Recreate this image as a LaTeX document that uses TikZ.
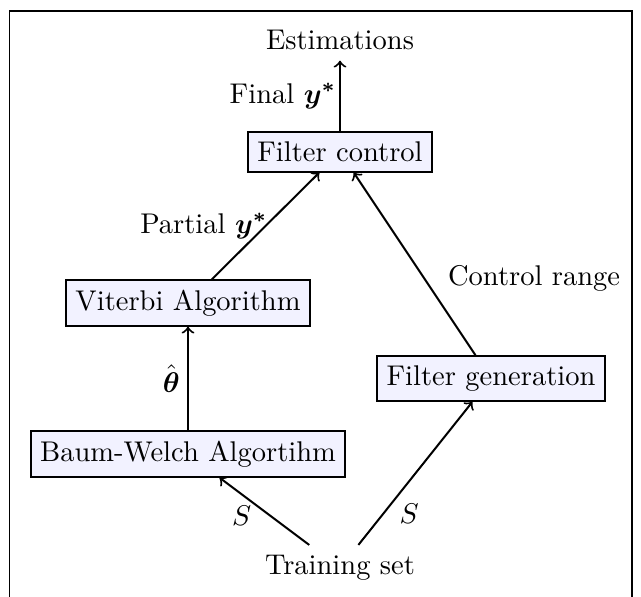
\documentclass[tikz,border=0pt]{standalone}
\usepackage{amsmath,amssymb}
\begin{document}
\begin{tikzpicture}[x=0.3509pt,y=-0.3509pt,
  line width=0.7pt,
  box/.style={draw, fill=blue!5, inner sep=3.33pt, line width=0.7pt},
  frameline/.style={line width=0.7pt}]
\useasboundingbox (0,0) rectangle (641,596);
\clip (0,0) rectangle (641,596);
\draw[frameline] (9.5,640) -- (9.5,11) -- (632,11) -- (632,640);
\node (est) at (340,40.3) {Estimations};
\node[box] (fc) at (340,152) {Filter control};
\node[box] (v) at (188,303) {Viterbi Algorithm};
\node[box] (bw) at (188,454) {Baum-Welch Algortihm};
\node[box] (fg) at (491,378.5) {Filter generation};
\node (ts) at (340,568) {Training set};
\draw[->] (fc) -- node[anchor=east, inner sep=1pt] {Final $\boldsymbol{y^*}$} (est);
\draw[->] (v) -- node[anchor=east, inner sep=0pt, xshift=1pt] {Partial $\boldsymbol{y^*}$} (fc);
\draw[->] (fg) -- node[pos=0.42, anchor=west, inner sep=0pt, xshift=8pt] {Control range} (fc);
\draw[->] (bw) -- node[anchor=east, inner sep=2.5pt] {$\hat{\boldsymbol{\theta}}$} (v);
\draw[->] (ts) -- node[pos=0.53, left, yshift=-2.2pt] {$S$} (bw);
\draw[->] (ts) -- node[pos=0.27, right, yshift=-2.5pt] {$S$} (fg);
\end{tikzpicture}
\end{document}
